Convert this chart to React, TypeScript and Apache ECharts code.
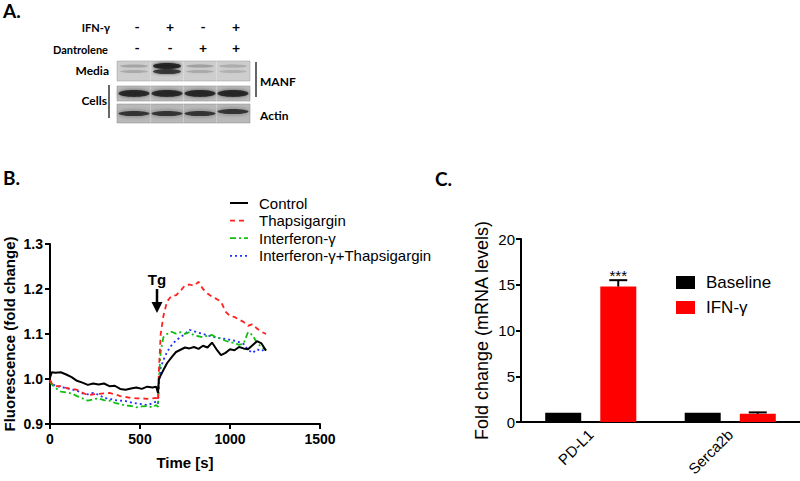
import React, { useEffect, useRef } from 'react';
import * as echarts from 'echarts';

// ---------- Panel B data (time course) ----------
const timeS = [0, 10, 30, 60, 90, 120, 150, 180, 210, 240, 270, 300, 330, 360, 390, 420, 450, 480, 510, 540, 570, 590, 600, 605, 615, 630, 650, 675, 700, 725, 750, 775, 800, 825, 850, 875, 900, 925, 950, 975, 1000, 1025, 1050, 1075, 1100, 1125, 1150, 1175, 1200];
const controlVals = [1.003, 1.015, 1.014, 1.015, 1.01, 1.004, 0.996, 0.992, 0.987, 0.99, 0.988, 0.99, 0.984, 0.985, 0.978, 0.976, 0.979, 0.981, 0.978, 0.983, 0.981, 0.983, 0.969, 1.0, 1.008, 1.02, 1.035, 1.048, 1.06, 1.065, 1.07, 1.068, 1.071, 1.067, 1.074, 1.07, 1.081, 1.066, 1.053, 1.058, 1.066, 1.064, 1.071, 1.068, 1.066, 1.075, 1.084, 1.079, 1.063];
const thapsVals = [0.998, 0.99, 0.984, 0.984, 0.98, 0.978, 0.976, 0.97, 0.964, 0.966, 0.967, 0.968, 0.969, 0.966, 0.962, 0.96, 0.958, 0.957, 0.957, 0.956, 0.957, 0.958, 0.952, 1.02, 1.1, 1.14, 1.172, 1.185, 1.186, 1.196, 1.208, 1.21, 1.207, 1.216, 1.2, 1.19, 1.183, 1.178, 1.172, 1.15, 1.14, 1.138, 1.132, 1.127, 1.118, 1.122, 1.112, 1.105, 1.1];
const ifnVals = [0.994, 0.988, 0.98, 0.972, 0.97, 0.968, 0.962, 0.957, 0.952, 0.955, 0.957, 0.953, 0.952, 0.947, 0.944, 0.941, 0.94, 0.937, 0.939, 0.94, 0.937, 0.942, 0.938, 1.0, 1.06, 1.093, 1.1, 1.105, 1.101, 1.104, 1.1, 1.104, 1.097, 1.095, 1.093, 1.096, 1.098, 1.092, 1.09, 1.085, 1.082, 1.08, 1.076, 1.078, 1.104, 1.098, 1.08, 1.071, 1.064];
const ifnThapsVals = [0.996, 0.99, 0.985, 0.982, 0.98, 0.977, 0.974, 0.968, 0.966, 0.969, 0.965, 0.958, 0.956, 0.953, 0.952, 0.951, 0.948, 0.946, 0.944, 0.942, 0.946, 0.95, 0.945, 0.99, 1.025, 1.042, 1.06, 1.075, 1.086, 1.093, 1.1, 1.109, 1.106, 1.103, 1.1, 1.097, 1.094, 1.092, 1.09, 1.089, 1.087, 1.085, 1.082, 1.078, 1.065, 1.058, 1.066, 1.062, 1.068];
const lineNames = ['Control', 'Thapsigargin', 'Interferon-γ', 'Interferon-γ+Thapsigargin'];

// ---------- Panel C data (bars) ----------
const barCategories = ['PD-L1', 'Serca2b'];
const barSeriesNames = ['Baseline', 'IFN-γ'];
const baselineMeans = [1.0, 1.0];
const ifnMeans = [14.8, 0.9];
const ifnErrTop = [15.5, 1.05];
const ifnSig = ['***', ''];

// ---------- Panel A labels ----------
const ifnSigns = ['-', '+', '-', '+'];
const dantSigns = ['-', '-', '+', '+'];
const mediaIntensity = [0.22, 0.95, 0.24, 0.18];

const SANS = '"Liberation Sans", Arial, sans-serif';
const CAL = 'Lato, "Open Sans", sans-serif';

const lineDefs = [
  { vals: controlVals, color: '#000000', width: 2, type: 'solid' as any },
  { vals: thapsVals, color: '#ff2020', width: 1.8, type: [5, 4] },
  { vals: ifnVals, color: '#10c010', width: 1.8, type: [6, 3, 2, 3] },
  { vals: ifnThapsVals, color: '#2030ff', width: 1.8, type: [2, 3] },
];

function buildGraphics() {
  const lanes = [134, 167, 200, 233];
  const els: any[] = [];
  els.push({ type: 'rect', shape: { x: 117, y: 61, width: 133, height: 20 }, style: { fill: '#cecece', stroke: '#9a9a9a', lineWidth: 0.5 } });
  els.push({ type: 'rect', shape: { x: 117, y: 86, width: 133, height: 15 }, style: { fill: '#bdbdbd', stroke: '#8a8a8a', lineWidth: 0.5 } });
  els.push({ type: 'rect', shape: { x: 117, y: 104, width: 133, height: 19 }, style: { fill: '#b9b9b9', stroke: '#8a8a8a', lineWidth: 0.5 } });
  lanes.forEach((cx, i) => {
    const a = mediaIntensity[i];
    const strong = a > 0.6;
    els.push({ type: 'ellipse', shape: { cx, cy: 66, rx: 14, ry: strong ? 3 : 1.6 }, style: { fill: `rgba(35,35,35,${a})`, shadowBlur: 3, shadowColor: `rgba(35,35,35,${a})` } });
    els.push({ type: 'ellipse', shape: { cx, cy: 71.5, rx: 14, ry: strong ? 2.6 : 1.5 }, style: { fill: `rgba(45,45,45,${a * 0.9})`, shadowBlur: 3, shadowColor: `rgba(45,45,45,${a * 0.8})` } });
    els.push({ type: 'ellipse', shape: { cx, cy: 93.5, rx: 15.5, ry: 3.4 }, style: { fill: 'rgba(25,25,25,0.85)', shadowBlur: 4, shadowColor: 'rgba(25,25,25,0.6)' } });
    els.push({ type: 'ellipse', shape: { cx, cy: i === 3 ? 111.5 : 113.5, rx: 15.5, ry: 2.6 }, style: { fill: 'rgba(35,35,35,0.85)', shadowBlur: 4, shadowColor: 'rgba(35,35,35,0.55)' } });
    els.push({ type: 'text', style: { text: ifnSigns[i], x: cx + 3, y: 26, font: 'bold 14px ' + CAL, fill: '#000', textAlign: 'center', verticalAlign: 'middle' } });
    els.push({ type: 'text', style: { text: dantSigns[i], x: cx + 3, y: 47, font: 'bold 14px ' + CAL, fill: '#000', textAlign: 'center', verticalAlign: 'middle' } });
  });
  [150.5, 183.5, 216.5].forEach((x) => {
    els.push({ type: 'line', shape: { x1: x, y1: 61, x2: x, y2: 123 }, style: { stroke: 'rgba(255,255,255,0.25)', lineWidth: 1 } });
  });
  const lbl = (text: string, x: number, y: number, align: string, size = 11.5) => ({ type: 'text', style: { text, x, y, font: `bold ${size}px ${CAL}`, fill: '#000', textAlign: align, verticalAlign: 'middle' } });
  els.push(lbl('A.', 3, 10, 'left', 19));
  els.push(lbl('IFN-γ', 110, 27, 'right', 11));
  els.push(lbl('Dantrolene', 108, 49, 'right', 11));
  els.push(lbl('Media', 109, 70, 'right', 12));
  els.push(lbl('Cells', 107, 100, 'right', 12));
  els.push(lbl('MANF', 260, 81, 'left', 12));
  els.push(lbl('Actin', 260, 115, 'left', 12));
  els.push({ type: 'line', shape: { x1: 109, y1: 85, x2: 109, y2: 118 }, style: { stroke: '#000', lineWidth: 1.2 } });
  els.push({ type: 'line', shape: { x1: 256, y1: 62, x2: 256, y2: 97 }, style: { stroke: '#000', lineWidth: 1.2 } });
  // panel letters
  els.push(lbl('B.', 3, 177, 'left', 19));
  els.push(lbl('C.', 435, 178, 'left', 19));
  // Tg arrow
  els.push({ type: 'text', style: { text: 'Tg', x: 157, y: 279, font: `bold 15px ${SANS}`, fill: '#000', textAlign: 'center', verticalAlign: 'middle' } });
  els.push({ type: 'line', shape: { x1: 157, y1: 289, x2: 157, y2: 305 }, style: { stroke: '#000', lineWidth: 2.5 } });
  els.push({ type: 'polygon', shape: { points: [[151.5, 302], [162.5, 302], [157, 313]] }, style: { fill: '#000' } });
  // legend for panel B (line keys drawn with the series' own styles)
  lineDefs.forEach((d, i) => {
    const y = 203 + i * 17.6;
    els.push({ type: 'line', shape: { x1: 230, y1: y, x2: 248, y2: y }, style: { stroke: d.color, lineWidth: d.width, lineDash: Array.isArray(d.type) ? d.type : null } });
    els.push({ type: 'text', style: { text: lineNames[i], x: 259, y, font: `15px ${SANS}`, fill: '#000', textAlign: 'left', verticalAlign: 'middle' } });
  });
  return els;
}

export default function App() {
  const ref = useRef<HTMLDivElement>(null);
  useEffect(() => {
    if (!ref.current) return;
    const chart = echarts.init(ref.current, undefined, { renderer: 'svg' });
    const mk = (vals: number[]) => timeS.map((t, i) => [t, vals[i]]);
    const ifnOffset = (36 + 19) / 2;
    const axisBlack = { lineStyle: { color: '#000', width: 2 } };
    const option: any = {
      animation: false,
      backgroundColor: '#fff',
      graphic: buildGraphics(),
      legend: [
        {
          data: barSeriesNames, orient: 'vertical', left: 671, top: 269, itemWidth: 19, itemHeight: 13, itemGap: 8, icon: 'rect',
          selectedMode: false, textStyle: { fontSize: 17, fontFamily: SANS, color: '#000', padding: [0, 0, 0, 6] },
        },
      ],
      grid: [
        { left: 50, top: 244, width: 270, height: 180 },
        { left: 521, top: 239, width: 286, height: 183 },
      ],
      xAxis: [
        {
          gridIndex: 0, type: 'value', min: 0, max: 1500, interval: 500,
          axisLine: axisBlack, axisTick: { length: 5, lineStyle: { width: 2, color: '#000' } },
          axisLabel: { color: '#000', fontWeight: 'bold', fontSize: 14, fontFamily: SANS, margin: 8, formatter: (v: number) => String(v) },
          splitLine: { show: false },
          name: 'Time [s]', nameLocation: 'middle', nameGap: 31,
          nameTextStyle: { color: '#000', fontWeight: 'bold', fontSize: 15, fontFamily: SANS },
        },
        {
          gridIndex: 1, type: 'category', data: barCategories,
          axisLine: axisBlack, axisTick: { alignWithLabel: true, length: 5, lineStyle: { width: 2, color: '#000' } },
          axisLabel: { color: '#000', fontSize: 15, fontFamily: SANS, rotate: 45, margin: 10 },
        },
      ],
      yAxis: [
        {
          gridIndex: 0, type: 'value', min: 0.9, max: 1.3, interval: 0.1,
          axisLine: { show: true, ...axisBlack }, axisTick: { show: true, length: 5, lineStyle: { width: 2, color: '#000' } },
          axisLabel: { color: '#000', fontWeight: 'bold', fontSize: 14, fontFamily: SANS, margin: 7, formatter: (v: number) => v.toFixed(1) },
          splitLine: { show: false },
          name: 'Fluorescence (fold change)', nameLocation: 'middle', nameGap: 33,
          nameTextStyle: { color: '#000', fontWeight: 'bold', fontSize: 15, fontFamily: SANS },
        },
        {
          gridIndex: 1, type: 'value', min: 0, max: 20, interval: 5,
          axisLine: { show: true, ...axisBlack }, axisTick: { show: true, length: 5, lineStyle: { width: 2, color: '#000' } },
          axisLabel: { color: '#000', fontSize: 15, fontFamily: SANS, margin: 6 },
          splitLine: { show: false },
          name: 'Fold change (mRNA levels)', nameLocation: 'middle', nameGap: 30,
          nameTextStyle: { color: '#000', fontSize: 18, fontFamily: SANS },
        },
      ],
      series: [
        ...lineDefs.map((d, i) => ({
          name: lineNames[i], type: 'line', xAxisIndex: 0, yAxisIndex: 0, data: mk(d.vals),
          symbol: 'none', showSymbol: false, smooth: false,
          lineStyle: { color: d.color, width: d.width, type: d.type },
          itemStyle: { color: d.color }, z: 10 - i,
        })),
        {
          name: barSeriesNames[0], type: 'bar', xAxisIndex: 1, yAxisIndex: 1, data: baselineMeans,
          barWidth: 36, barGap: '53%', itemStyle: { color: '#000' },
        },
        {
          name: barSeriesNames[1], type: 'bar', xAxisIndex: 1, yAxisIndex: 1, data: ifnMeans,
          barWidth: 36, barGap: '53%', itemStyle: { color: '#ff0000' },
        },
        {
          type: 'custom', xAxisIndex: 1, yAxisIndex: 1,
          data: barCategories.map((c, i) => [i, ifnMeans[i], ifnErrTop[i]]),
          encode: { x: 0, y: 2 },
          renderItem: (params: any, api: any) => {
            const idx = api.value(0);
            const pm = api.coord([idx, api.value(1)]);
            const pt = api.coord([idx, api.value(2)]);
            const x = pm[0] + ifnOffset;
            return {
              type: 'group',
              children: [
                { type: 'line', shape: { x1: x, y1: pm[1], x2: x, y2: pt[1] }, style: { stroke: '#000', lineWidth: 2 } },
                { type: 'line', shape: { x1: x - 9, y1: pt[1], x2: x + 9, y2: pt[1] }, style: { stroke: '#000', lineWidth: 2 } },
                { type: 'text', style: { text: ifnSig[params.dataIndex], x, y: pt[1] - 5, textAlign: 'center', verticalAlign: 'middle', font: `15px ${SANS}`, fill: '#000' } },
              ],
            };
          },
          z: 5,
        },
      ],
    };
    chart.setOption(option);
    return () => chart.dispose();
  }, []);
  return <div ref={ref} style={{ position: 'absolute', left: 0, top: 0, width: 800, height: 481 }} />;
}
